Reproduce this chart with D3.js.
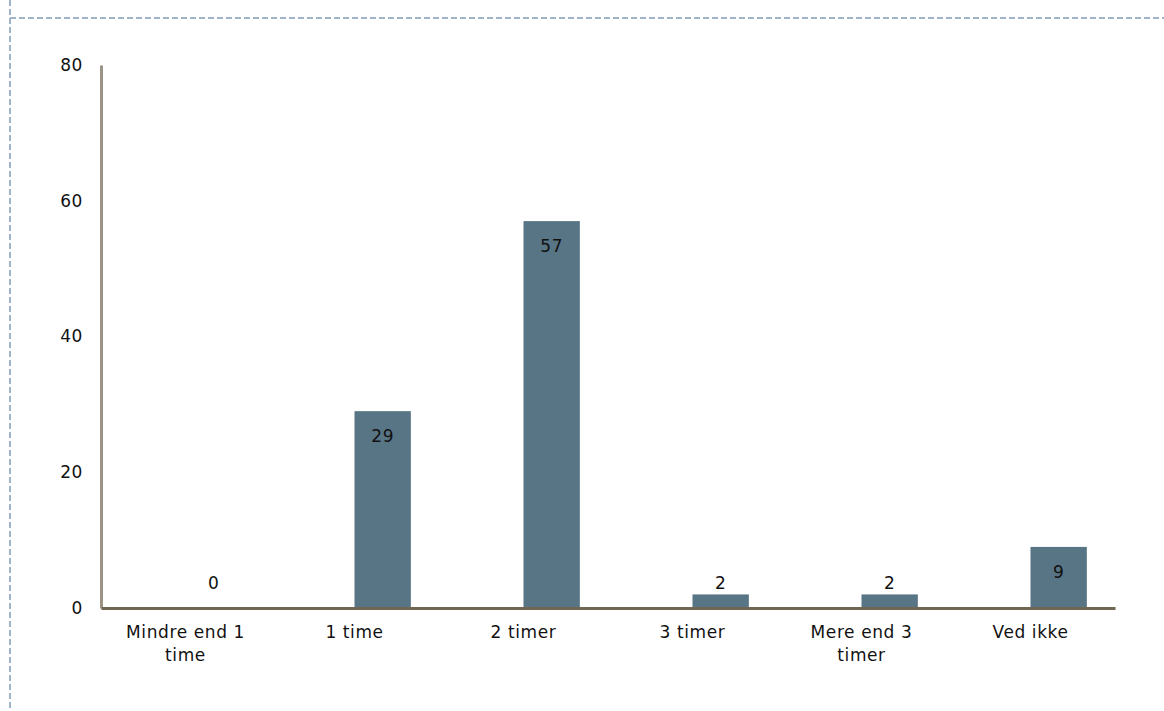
<!DOCTYPE html>
<html>
<head>
<meta charset="utf-8">
<script src="https://cdn.jsdelivr.net/npm/d3@7"></script>
<style>
  body { margin: 0; background: #fff; }
  text { font-family: "DejaVu Sans", sans-serif; fill: #111; letter-spacing: 0.6px; }
</style>
</head>
<body>
<div id="chart"></div>
<script>
// data
var categories = ["Mindre end 1\ntime", "1 time", "2 timer", "3 timer", "Mere end 3\ntimer", "Ved ikke"];
var values = [0, 29, 57, 2, 2, 9];
var yTicks = [0, 20, 40, 60, 80];

var W = 1164, H = 711;
var margin = {top: 65, right: 49, bottom: 103, left: 101},
    width = W - margin.left - margin.right,
    height = H - margin.top - margin.bottom;

var svg = d3.select("#chart").append("svg")
    .attr("width", W)
    .attr("height", H);

// dashed frame at top and left
svg.append("line")
    .attr("x1", 10).attr("x2", W).attr("y1", 18).attr("y2", 18)
    .attr("stroke", "#9fb3c9").attr("stroke-width", 2).attr("stroke-dasharray", "6,3");
svg.append("line")
    .attr("x1", 10).attr("x2", 10).attr("y1", 0).attr("y2", H)
    .attr("stroke", "#9fb3c9").attr("stroke-width", 2).attr("stroke-dasharray", "6,3");

var g = svg.append("g")
    .attr("transform", "translate(" + margin.left + "," + margin.top + ")");

// scales
var x = d3.scaleBand().domain(d3.range(categories.length)).range([0, width]);
var y = d3.scaleLinear().domain([0, 80]).range([height, 0]);

var barW = x.bandwidth() / 3;

// bars start at the middle of their band
g.selectAll(".bar")
    .data(values)
  .enter().append("rect")
    .attr("class", "bar")
    .attr("x", function(d, i) { return x(i) + x.bandwidth() / 2; })
    .attr("y", function(d) { return y(d); })
    .attr("width", barW)
    .attr("height", function(d) { return height - y(d); })
    .attr("fill", "#587585");

// value labels
g.selectAll(".val")
    .data(values)
  .enter().append("text")
    .attr("class", "val")
    .attr("x", function(d, i) { return x(i) + x.bandwidth() / 2 + barW / 2; })
    .attr("y", function(d) { return Math.min(y(d) + 25, height - 25); })
    .attr("dy", "0.35em")
    .attr("text-anchor", "middle")
    .style("font-size", "17px")
    .text(function(d) { return d; });

// y axis
var yAxis = g.append("g")
    .call(d3.axisLeft(y).tickValues(yTicks).tickSize(0).tickPadding(18));
yAxis.select(".domain").attr("stroke", "#9a9386").attr("stroke-width", 3);
yAxis.selectAll("text").style("font-size", "17px");

// x axis
var xAxis = g.append("g")
    .attr("transform", "translate(0," + height + ")")
    .call(d3.axisBottom(x).tickSize(0).tickPadding(0).tickFormat(""));
xAxis.select(".domain").attr("stroke", "#6f6754").attr("stroke-width", 3);

xAxis.selectAll(".tick").each(function(d) {
  var lines = categories[d].split("\n");
  var t = d3.select(this).append("text")
      .attr("text-anchor", "middle")
      .style("font-size", "17px");
  lines.forEach(function(l, k) {
    t.append("tspan").attr("x", 0).attr("y", 30 + k * 23).text(l);
  });
});
</script>
</body>
</html>
